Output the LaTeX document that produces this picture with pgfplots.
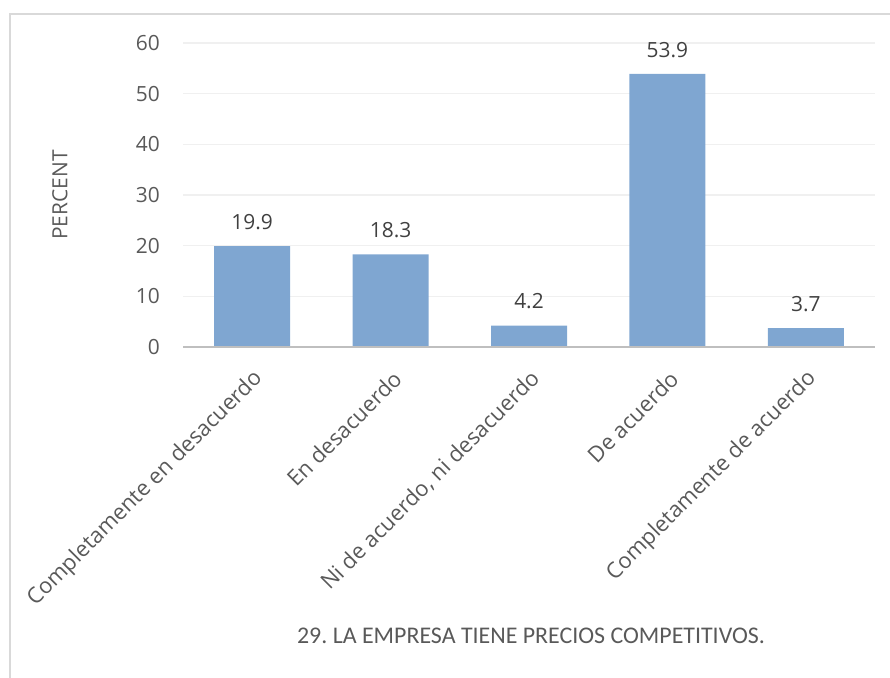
\documentclass[border=0pt]{standalone}
\usepackage{pgfplots}
\pgfplotsset{compat=1.18}
\usepackage{fontspec}
\setmainfont{Open Sans}
\newfontfamily\titlefont{Carlito}
\definecolor{barblue}{RGB}{127,166,209}
\definecolor{gridc}{RGB}{240,240,240}
\definecolor{basec}{RGB}{191,191,191}
\definecolor{framec}{RGB}{217,217,217}
\definecolor{tickc}{RGB}{89,89,89}
\definecolor{labc}{RGB}{64,64,64}
\frenchspacing
\begin{document}
\begin{tikzpicture}[x=1bp,y=1bp]
\useasboundingbox (0,0) rectangle (890,678);
\draw[framec, line width=1.5bp] (10,0) -- (10,664) -- (890,664);
\begin{axis}[
  at={(183bp,331bp)}, anchor=south west,
  scale only axis, width=692bp, height=304bp,
  xmin=-0.5, xmax=4.5, ymin=0, ymax=60,
  ytick={0,10,...,60},
  xtick={0,1,2,3,4},
  xticklabels={Completamente en desacuerdo, En desacuerdo, {Ni de acuerdo, ni desacuerdo}, De acuerdo, Completamente de acuerdo},
  axis line style={draw=none},
  major tick length=0pt,
  ymajorgrids, grid style={gridc, line width=1.2bp},
  yticklabel style={font=\fontsize{21}{25}\selectfont, text=tickc, anchor=east, inner sep=0pt, xshift=-23bp},
  xticklabel style={font=\fontsize{22}{26}\selectfont, text=tickc, inner sep=0pt, xshift=7bp, yshift=-28bp, rotate=45, anchor=east},
  /pgf/number format/assume math mode=true,
  ybar, bar width=76bp,
  nodes near coords,
  nodes near coords style={font=\fontsize{21}{25}\selectfont, text=labc, /pgf/number format/fixed, /pgf/number format/precision=1, /pgf/number format/fixed zerofill, yshift=13bp},
  clip=false,
]
\addplot[fill=barblue, draw=none] coordinates {(0,19.9) (1,18.3) (2,4.2) (3,53.9) (4,3.7)};
\draw[basec, line width=2bp] (axis cs:-0.5,0) -- (axis cs:4.5,0);
\end{axis}
\node[rotate=90, font=\fontsize{21}{25}\selectfont, text=tickc] at (60,483) {PERCENT};
\node[font=\titlefont\fontsize{24}{28}\selectfont, text=tickc] at (531,42) {29. LA EMPRESA TIENE PRECIOS COMPETITIVOS.};
\end{tikzpicture}
\end{document}
